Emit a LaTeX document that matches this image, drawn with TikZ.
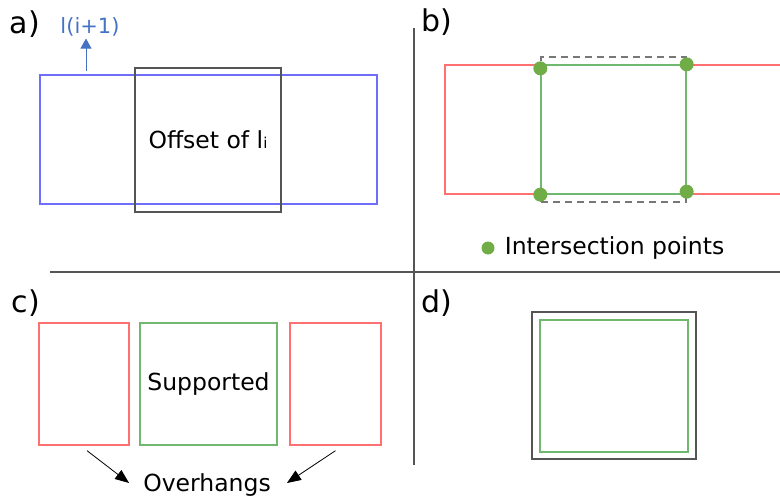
\documentclass[tikz,border=0pt]{standalone}
\usepackage{fontspec}
\setmainfont{DejaVu Sans}
\usetikzlibrary{arrows.meta,positioning}
\definecolor{layblue}{RGB}{110,110,250}
\definecolor{ovred}{RGB}{255,112,112}
\definecolor{supgreen}{RGB}{112,184,112}
\definecolor{dotgreen}{RGB}{112,173,71}
\definecolor{offgray}{RGB}{85,85,85}
\definecolor{lblblue}{RGB}{68,114,196}
\newcommand{\sm}[1]{{\fontsize{15}{15}\selectfont #1}}

\begin{document}
\begin{tikzpicture}[x=1pt,y=-1pt,
  box/.style={draw,inner sep=0pt,line width=1.3pt},
  txt/.style={inner sep=2pt,font=\fontsize{23.5}{28}\selectfont},
  tag/.style={inner sep=0pt,font=\fontsize{30}{36}\selectfont},
  dot/.style={circle,fill=dotgreen,inner sep=0pt,minimum size=14pt}]
\useasboundingbox (0,0) rectangle (780,498);

\draw[offgray,line width=1.3pt] (414,28) -- (414,465);
\draw[offgray,line width=1.3pt] (50,272) -- (780,272);

\node[tag] (taga) at (25,24) {a)};
\node[box,draw=layblue,minimum width=337pt,minimum height=129pt] (layer) at (208.5,139.5) {};
\node[box,draw=offgray,minimum width=146pt,minimum height=144pt,txt] (offset) at (208,140) {Offset of l\sm{i}};
\node[txt,text=lblblue,font=\fontsize{21}{25}\selectfont] (next) at (90,27) {l(i+1)};
\coordinate (up) at (86,71);
\draw[lblblue,line width=1pt,-{Triangle[width=11pt,length=10pt]}] (up) -- (up |- next.south);

\node[tag] (tagb) at (437,22) {b)};
\node[box,draw=ovred,minimum width=337pt,minimum height=129pt] (layerb) at (613.5,129.5) {};
\node[box,draw=offgray!80,dash pattern=on 7pt off 5pt,minimum width=145pt,minimum height=145pt] (offb) at (613.5,129.5) {};
\node[box,draw=supgreen,minimum width=145pt,minimum height=129pt] (inter) at (613.5,129.5) {};
\node[dot,yshift=-4pt] (p1) at (inter.north west) {};
\node[dot] (p2) at (inter.north east) {};
\node[dot] (p3) at (inter.south west) {};
\node[dot,yshift=3pt] (p4) at (inter.south east) {};
\node[dot,minimum size=13pt] (legdot) at (488,248) {};
\node[txt,right=8pt of legdot] (legend) {Intersection points};

\node[tag] (tagc) at (26,303) {c)};
\node[box,draw=ovred,minimum width=90pt,minimum height=122pt] (ovl) at (84,384) {};
\node[box,draw=supgreen,minimum width=137pt,minimum height=122pt,txt] (sup) at (208.5,384) {Supported};
\node[box,draw=ovred,minimum width=91pt,minimum height=122pt] (ovr) at (335.5,384) {};
\node[txt] (over) at (207,485) {Overhangs};
\draw[line width=0.8pt,-{Triangle[width=11pt,length=14pt]}] ([shift={(3,5)}]ovl.south) -- ([shift={(-12,-2)}]over.west);
\draw[line width=0.8pt,-{Triangle[width=11pt,length=14pt]}] ([shift={(0,5)}]ovr.south) -- ([shift={(14,-2)}]over.east);

\node[tag] (tagd) at (437,303) {d)};
\node[box,draw=offgray,minimum width=164pt,minimum height=147pt] (offd) at (614,385.5) {};
\node[box,draw=supgreen,minimum width=148pt,minimum height=132pt] (supd) at (614,386) {};
\end{tikzpicture}
\end{document}
